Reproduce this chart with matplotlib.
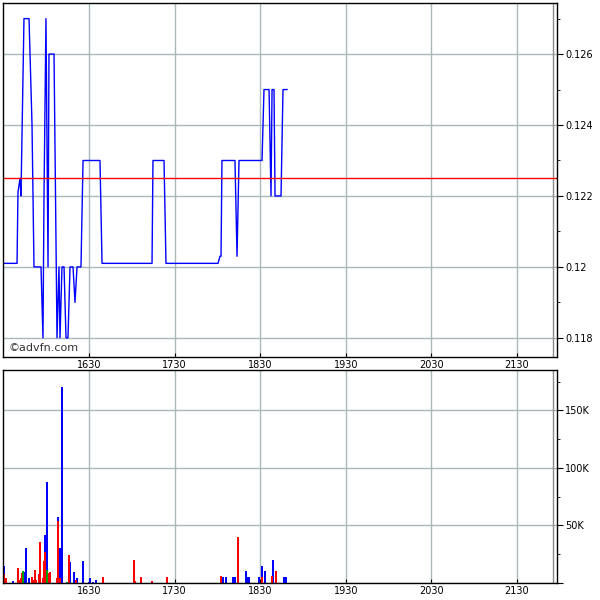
import matplotlib
matplotlib.use("Agg")
import matplotlib.pyplot as plt
from matplotlib.ticker import MultipleLocator, FuncFormatter

# price trace (x in chart time units, price)
price_x = [1529.5, 1529.5, 1545.9, 1547.0, 1549.4, 1550.5, 1554.0, 1559.9, 1563.4, 1565.7,
           1573.9, 1576.2, 1577.4, 1579.7, 1582.1, 1583.2, 1589.1, 1592.6, 1594.9, 1596.1,
           1598.4, 1600.8, 1603.1, 1605.4, 1607.8, 1611.3, 1613.6, 1616.0, 1620.6, 1623.0,
           1642.8, 1645.2, 1703.6, 1704.7, 1717.6, 1719.9, 1780.7, 1783.0, 1784.2, 1785.3,
           1800.5, 1802.9, 1805.2, 1832.1, 1834.4, 1840.3, 1842.6, 1843.8, 1846.1, 1847.3,
           1854.3, 1856.6, 1861.3]
price_y = [0.1225, 0.1201, 0.1201, 0.1221, 0.1225, 0.122, 0.127, 0.127, 0.124, 0.12,
           0.12, 0.118, 0.122, 0.127, 0.12, 0.126, 0.126, 0.118, 0.12, 0.118,
           0.12, 0.12, 0.118, 0.118, 0.12, 0.12, 0.119, 0.12, 0.12, 0.123,
           0.123, 0.1201, 0.1201, 0.123, 0.123, 0.1201, 0.1201, 0.1203, 0.1203, 0.123,
           0.123, 0.1203, 0.123, 0.123, 0.125, 0.125, 0.122, 0.125, 0.125, 0.122,
           0.122, 0.125, 0.125]
ref_price = 0.1225

blue_x = [1530.7, 1541.2, 1555.2, 1556.4, 1559.9, 1578.6, 1580.9, 1593.7, 1594.9, 1596.1,
          1598.4, 1607.8, 1612.4, 1616.0, 1623.0, 1630.0, 1631.1, 1634.6, 1638.1, 1786.5,
          1790.0, 1798.2, 1800.5, 1813.4, 1815.7, 1816.9, 1828.6, 1832.1, 1835.6, 1844.9,
          1857.8, 1860.1]
blue_v = [15000, 1800, 9700, 30000, 4000, 42000, 88000, 57000, 9700, 30000,
          170000, 18500, 9700, 4700, 19000, 900, 4700, 1200, 3000, 4900,
          4900, 4900, 4900, 10000, 4900, 4900, 4900, 15000, 10000, 19600,
          4900, 4900]
red_x = [1530.7, 1531.8, 1533.0, 1547.0, 1548.2, 1550.5, 1551.7, 1552.9, 1563.4, 1564.5,
         1566.9, 1568.1, 1571.6, 1572.7, 1576.2, 1577.4, 1578.6, 1579.7, 1580.9, 1583.2,
         1584.4, 1592.6, 1593.7, 1596.1, 1606.6, 1614.8, 1646.3, 1682.5, 1683.7, 1690.7,
         1703.6, 1721.1, 1784.2, 1804.0, 1832.1, 1843.8, 1848.4]
red_v = [8200, 2400, 4000, 13000, 2400, 4000, 9000, 9800, 5300, 2400,
         11500, 2400, 8200, 36000, 4700, 19000, 27000, 9700, 10000, 8500,
         9700, 4700, 54000, 4000, 24700, 3000, 5300, 20000, 1800, 4800,
         1700, 4900, 5800, 40000, 4900, 5800, 10000]
green_x = [1552.9, 1580.9, 1604.3]
green_v = [10600, 11000, 900]

xticks = [1630, 1730, 1830, 1930, 2030, 2130]
x_lo, x_hi = 1529.5, 2176.7

grid_c = '#a9b9b9'
fs = 7

fig = plt.figure(figsize=(6, 6), dpi=100)
ax1 = fig.add_axes([3/600, 1-357/600, 554/600, 354/600])
ax2 = fig.add_axes([3/600, 1-583/600, 554/600, 213/600])

for ax in (ax1, ax2):
    ax.set_xlim(x_lo, x_hi)
    ax.set_xticks(xticks)
    ax.set_xticklabels([str(t) for t in xticks], fontsize=fs)
    ax.tick_params(axis='x', length=3, pad=2, direction='in')
    ax.yaxis.tick_right()
    ax.tick_params(axis='y', which='major', length=4, labelsize=fs, pad=2)
    ax.tick_params(axis='y', which='minor', length=2)
    ax.grid(True, which='major', color=grid_c, linewidth=1)
    ax.axvline(2172, color='#8a8a8a', linewidth=1)
    for s in ax.spines.values():
        s.set_linewidth(1)
    ax.set_axisbelow(True)

ax1.plot(price_x, price_y, color='#0000ff', linewidth=1)
ax1.axhline(ref_price, color='#ff0000', linewidth=1)
ax1.set_ylim(0.11746, 0.12744)
ax1.yaxis.set_major_locator(MultipleLocator(0.002))
ax1.yaxis.set_minor_locator(MultipleLocator(0.001))
ax1.yaxis.set_major_formatter(FuncFormatter(lambda v, p: ('%.3f' % v).rstrip('0')))
ax1.text(0.01, 0.012, '©advfn.com', transform=ax1.transAxes, fontsize=fs + 1,
         color='#333333', ha='left', va='bottom')

ax2.vlines(blue_x, 0, blue_v, color='#0000ff', linewidth=1.3, antialiased=False)
ax2.vlines(red_x, 0, red_v, color='#ff0000', linewidth=1.3, antialiased=False)
ax2.vlines(green_x, 0, green_v, color='#00a000', linewidth=1.3, antialiased=False)
ax2.set_ylim(0, 185000)
ax2.yaxis.set_major_locator(MultipleLocator(50000))
ax2.yaxis.set_minor_locator(MultipleLocator(25000))
ax2.yaxis.set_major_formatter(FuncFormatter(lambda v, p: '' if v == 0 else '%dK' % (v / 1000)))

fig.savefig('out.png', dpi=100)
